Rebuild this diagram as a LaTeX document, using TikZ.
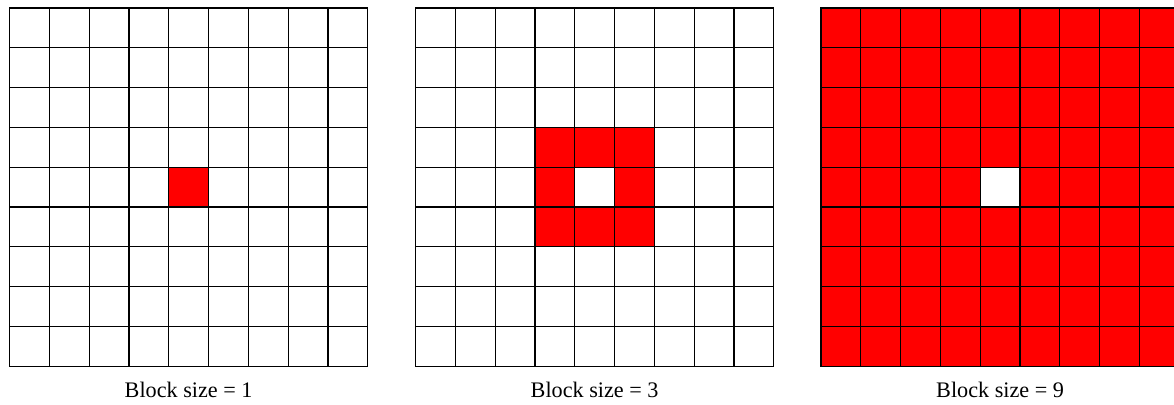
\documentclass[tikz,border=0pt]{standalone}
\usepackage{fontspec}
\setmainfont{Liberation Serif}

\begin{document}
\begin{tikzpicture}[
    x = 0.5pt, y = 0.5pt,
    every node/.style = {font=\fontsize{11.1}{13}\selectfont},
    redcell/.style = {fill=red},
    gridline/.style = {draw=black, line width=0.6pt, line cap=rect},
    blocklabel/.style = {anchor=base}
]
\useasboundingbox (0,0) rectangle (1174,-405);

\foreach \ox/\bs [count=\g] in {9.5/1, 415.5/3, 821/9} {
    \pgfmathtruncatemacro\h{(\bs-1)/2}
    % cells of the block, centre left white when the block is bigger than one
    \foreach \i in {0,...,8} {
        \foreach \j in {0,...,8} {
            \pgfmathtruncatemacro\inblk{(abs(\i-4)<=\h) && (abs(\j-4)<=\h) && !((\i==4) && (\j==4) && (\bs>1))}
            \ifnum\inblk=1
                \fill[redcell] (\ox+\i*39.8,-8-\j*39.8) rectangle ++(39.8,-39.8);
            \fi
        }
    }
    % grid lines
    \foreach \k in {0,...,9} {
        \draw[gridline] (\ox+\k*39.8,-8) -- ++(0,-358.2);
        \draw[gridline] (\ox,-8-\k*39.8) -- ++(358.2,0);
    }
    \node[blocklabel] (lab\g) at (\ox+179.1,-397.7) {Block size = \bs};
}

\end{tikzpicture}
\end{document}
